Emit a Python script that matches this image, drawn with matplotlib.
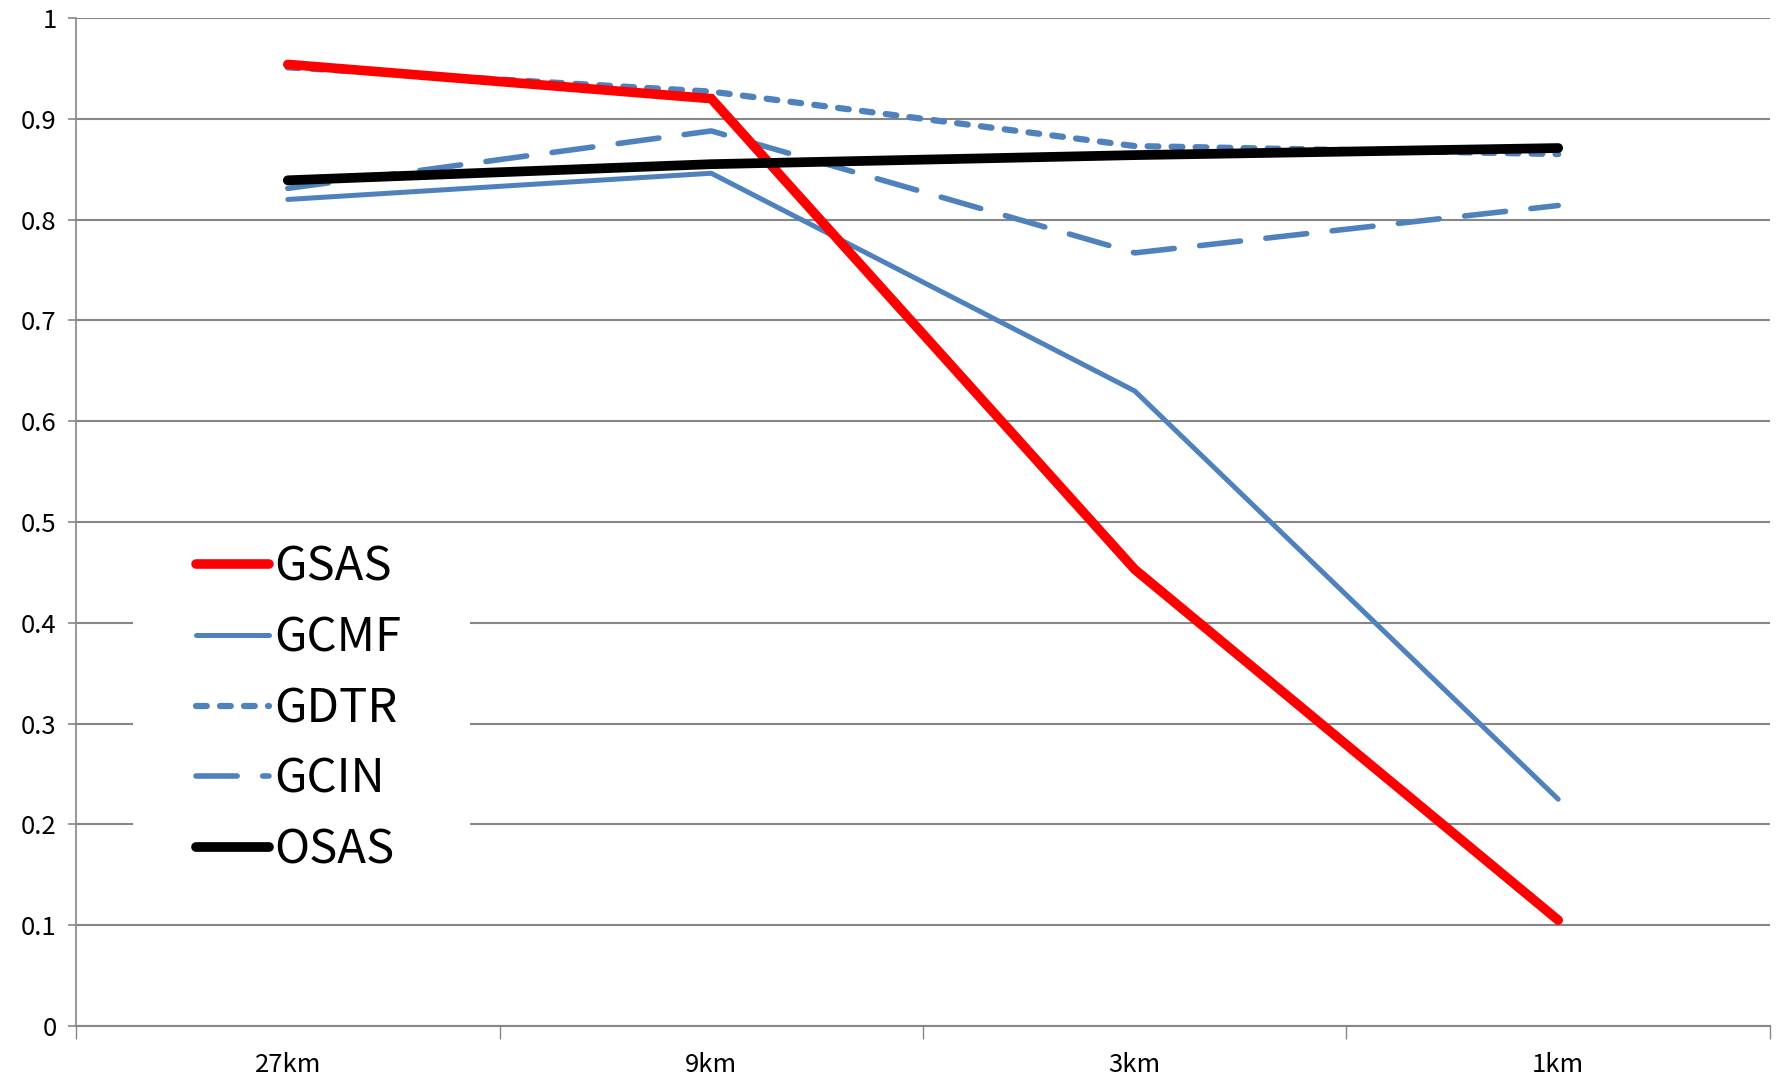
import matplotlib
matplotlib.use("Agg")
import matplotlib.pyplot as plt
from matplotlib.patches import Rectangle

# grid resolutions and scores for each scheme
resolutions = ["27km", "9km", "3km", "1km"]
gsas = [0.954, 0.920, 0.453, 0.105]
gcmf = [0.820, 0.846, 0.630, 0.225]
gdtr = [0.951, 0.927, 0.873, 0.865]
gcin = [0.831, 0.888, 0.767, 0.814]
osas = [0.839, 0.855, 0.864, 0.871]
y_ticks = [0, 0.1, 0.2, 0.3, 0.4, 0.5, 0.6, 0.7, 0.8, 0.9, 1]
y_labels = ["0", "0.1", "0.2", "0.3", "0.4", "0.5", "0.6", "0.7", "0.8", "0.9", "1"]

plt.rcParams['font.family'] = ['Noto Sans CJK KR', 'DejaVu Sans']

blue = '#4f81bd'
grid_col = '#868686'

fig = plt.figure(figsize=(17.81, 10.79), dpi=100)
ax = fig.add_axes([0.0427, 0.0491, 0.9511, 0.9342])

x = list(range(len(resolutions)))
ax.plot(x, gsas, color='#ff0000', lw=6.9, solid_capstyle='round', solid_joinstyle='miter', label='GSAS', zorder=4)
ax.plot(x, gcmf, color=blue, lw=3.6, solid_capstyle='round', label='GCMF', zorder=3)
ax.plot(x, gdtr, color=blue, lw=4.5, linestyle=(0, (1.72, 2.12)), dash_capstyle='round', label='GDTR', zorder=3)
ax.plot(x, gcin, color=blue, lw=4.0, linestyle=(0, (7.4, 4.6)), dash_capstyle='round', label='GCIN', zorder=3)
ax.plot(x, osas, color='black', lw=7.0, solid_capstyle='round', label='OSAS', zorder=5)

ax.set_xlim(-0.5, len(resolutions) - 0.5)
ax.set_ylim(0, 1)
ax.set_yticks(y_ticks)
ax.set_yticklabels(y_labels)
ax.set_xticks(x)
ax.set_xticklabels(resolutions)
ax.set_xticks([i - 0.5 for i in range(len(resolutions) + 1)], minor=True)

ax.yaxis.grid(True, color=grid_col, lw=1.5, zorder=0)
ax.set_axisbelow(True)
for side in ['top', 'right']:
    ax.spines[side].set_visible(False)
ax.spines['left'].set_color(grid_col)
ax.spines['left'].set_linewidth(1.2)
ax.spines['bottom'].set_color(grid_col)
ax.spines['bottom'].set_linewidth(1.5)

ax.tick_params(axis='y', length=6, width=1.2, color=grid_col, labelsize=18.5, pad=8)
ax.tick_params(axis='x', which='major', length=0, labelsize=18.5, pad=19)
ax.tick_params(axis='x', which='minor', length=9, width=1.0, color=grid_col)

# white box behind the legend, blanking the gridlines there
ax.add_patch(Rectangle((0.0335, 0.127), 0.199, 0.367, transform=ax.transAxes,
                       facecolor='white', edgecolor='none', zorder=1))

leg = ax.legend(loc='upper left', bbox_to_anchor=(0.0711, 0.479), fontsize=34,
                frameon=False, handlelength=1.54, handletextpad=0.1,
                labelspacing=0.47, borderpad=0, borderaxespad=0)
leg.set_zorder(2)

fig.savefig('out.png', dpi=100)
